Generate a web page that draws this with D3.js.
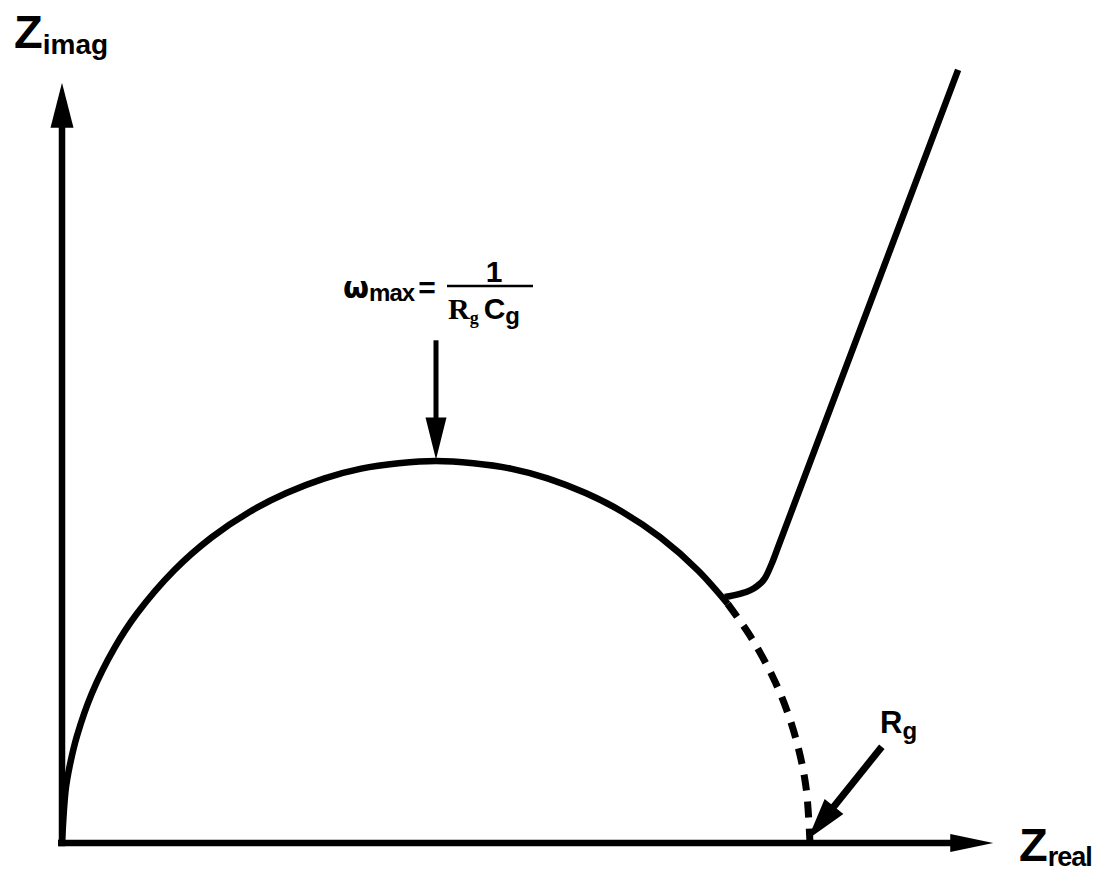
<!DOCTYPE html>
<html>
<head>
<meta charset="utf-8">
<script src="https://cdn.jsdelivr.net/npm/d3@7"></script>
<style>
  html, body { margin: 0; padding: 0; background: #fff; }
  svg { display: block; }
  text { font-family: "Liberation Sans", Arial, Helvetica, sans-serif; font-weight: bold; fill: #000; }
</style>
</head>
<body>
<svg id="chart" width="1102" height="877"></svg>
<script>
// Nyquist plot of a single RC element (bulk R_g || C_g) with a diffusion tail.
// Impedance in units where R_g = 100.

// High-frequency semicircle, solid part (Z_real, Z_imag)
const arcReal  = [0, 0.5, 1, 2, 4, 7, 10, 15, 20, 25, 30, 35, 40, 45, 50, 55, 60, 65, 70, 75, 80, 85, 89];
const arcImag  = [0, 7.05, 9.95, 14.0, 19.6, 25.5, 30.0, 35.7, 40.0, 43.3, 45.8, 47.7, 49.0, 49.7, 50.0, 49.7, 49.0, 47.7, 45.8, 43.3, 40.0, 35.7, 31.3];

// Extrapolated end of the semicircle to Z_real = R_g (dashed)
const extReal  = [89, 92, 95, 97, 98.5, 99.5, 100];
const extImag  = [31.3, 27.1, 21.8, 17.1, 12.2, 7.05, 0];

// Low-frequency diffusion tail
const tailReal = [88.6, 90.6, 92.6, 94.0, 94.9, 95.6, 119.8];
const tailImag = [32.2, 32.6, 33.4, 34.7, 36.6, 38.4, 101.2];

// Axis extents
const axisRealMax = 124.5;
const axisImagMax = 99.5;

// Annotation arrows: [fromReal, fromImag, toReal, toImag]
const omegaArrow = [50, 65.8, 50, 50.2];
const rgArrow    = [109.6, 12.6, 99.7, 0.5];

const svg = d3.select("#chart");
svg.append("rect").attr("width", 1102).attr("height", 877).attr("fill", "#fff");

const x = d3.scaleLinear().domain([0, 100]).range([62, 810]);
const y = d3.scaleLinear().domain([0, 100]).range([843, 79]);

const toPts = (xs, ys) => xs.map((v, i) => [v, ys[i]]);
const line = d3.line().x(d => x(d[0])).y(d => y(d[1]));

// arrowhead polygon with its tip at (tx, ty), pointing along (dx, dy)
function head(g, tx, ty, dx, dy, len, width) {
  const n = Math.hypot(dx, dy), ux = dx / n, uy = dy / n;
  const bx = tx - ux * len, by = ty - uy * len;
  const px = -uy * width / 2, py = ux * width / 2;
  g.append("path")
    .attr("d", `M${tx},${ty}L${bx + px},${by + py}L${bx - px},${by - py}Z`)
    .attr("fill", "#000");
}

const g = svg.append("g");

// Axes
g.append("line")
  .attr("x1", x(0)).attr("y1", y(0)).attr("x2", x(0)).attr("y2", y(axisImagMax) + 40)
  .attr("stroke", "#000").attr("stroke-width", 6.5).attr("stroke-linecap", "square");
head(g, x(0), y(axisImagMax), 0, -1, 45, 23);

g.append("line")
  .attr("x1", x(0) - 4).attr("y1", y(0)).attr("x2", x(axisRealMax) - 40).attr("y2", y(0))
  .attr("stroke", "#000").attr("stroke-width", 6.5);
head(g, x(axisRealMax), y(0), 1, 0, 43, 18);

// Semicircle
g.append("path")
  .attr("d", line.curve(d3.curveCatmullRom)(toPts(arcReal, arcImag)))
  .attr("fill", "none").attr("stroke", "#000").attr("stroke-width", 6.5);

g.append("path")
  .attr("d", line.curve(d3.curveCatmullRom)(toPts(extReal, extImag)))
  .attr("fill", "none").attr("stroke", "#000").attr("stroke-width", 7)
  .attr("stroke-dasharray", "16,11");

// Diffusion tail
g.append("path")
  .attr("d", line.curve(d3.curveMonotoneX)(toPts(tailReal, tailImag)))
  .attr("fill", "none").attr("stroke", "#000").attr("stroke-width", 6.5)
  .attr("stroke-linejoin", "round");

// Annotation arrows
function arrow(a, len, width, sw) {
  const x1 = x(a[0]), y1 = y(a[1]), x2 = x(a[2]), y2 = y(a[3]);
  const n = Math.hypot(x2 - x1, y2 - y1);
  const ex = x2 - (x2 - x1) / n * (len - 4), ey = y2 - (y2 - y1) / n * (len - 4);
  g.append("line").attr("x1", x1).attr("y1", y1).attr("x2", ex).attr("y2", ey)
    .attr("stroke", "#000").attr("stroke-width", sw);
  head(g, x2, y2, x2 - x1, y2 - y1, len, width);
}
arrow(omegaArrow, 42, 21, 5);
arrow(rgArrow, 42, 24, 7);

// Axis titles
const zi = g.append("text").attr("x", 14).attr("y", 48).attr("font-size", 47);
zi.append("tspan").text("Z");
zi.append("tspan").attr("dy", 6).attr("font-size", 28).text("imag");

const zr = g.append("text").attr("x", 1019).attr("y", 861).attr("font-size", 47);
zr.append("tspan").text("Z");
zr.append("tspan").attr("dy", 5).attr("font-size", 27).attr("letter-spacing", -1).text("real");

// ω_max = 1 / (R_g C_g)
const om = g.append("text").attr("x", 343).attr("y", 298).attr("font-size", 30);
om.append("tspan").attr("font-family", "'DejaVu Sans', sans-serif").text("ω");
om.append("tspan").attr("dy", 3).attr("font-size", 24).attr("letter-spacing", -1).text("max");
om.append("tspan").attr("dy", -3).attr("dx", 4).text("=");

g.append("line").attr("x1", 447).attr("x2", 533).attr("y1", 286).attr("y2", 286)
  .attr("stroke", "#000").attr("stroke-width", 2.5);
g.append("text").attr("x", 494).attr("y", 282).attr("font-size", 30).attr("text-anchor", "middle").text("1");

const den = g.append("text").attr("x", 448).attr("y", 319).attr("font-size", 30);
den.append("tspan").attr("font-family", "'Liberation Serif', serif").text("R");
den.append("tspan").attr("dy", 5).attr("font-size", 18).attr("font-family", "'Liberation Serif', serif").text("g");
den.append("tspan").attr("dy", -5).attr("dx", 5).text("C");
den.append("tspan").attr("dy", 5).attr("font-size", 24).text("g");

// R_g label
const rg = g.append("text").attr("x", 880).attr("y", 733).attr("font-size", 31);
rg.append("tspan").text("R");
rg.append("tspan").attr("dy", 6).attr("font-size", 24).text("g");
</script>
</body>
</html>
